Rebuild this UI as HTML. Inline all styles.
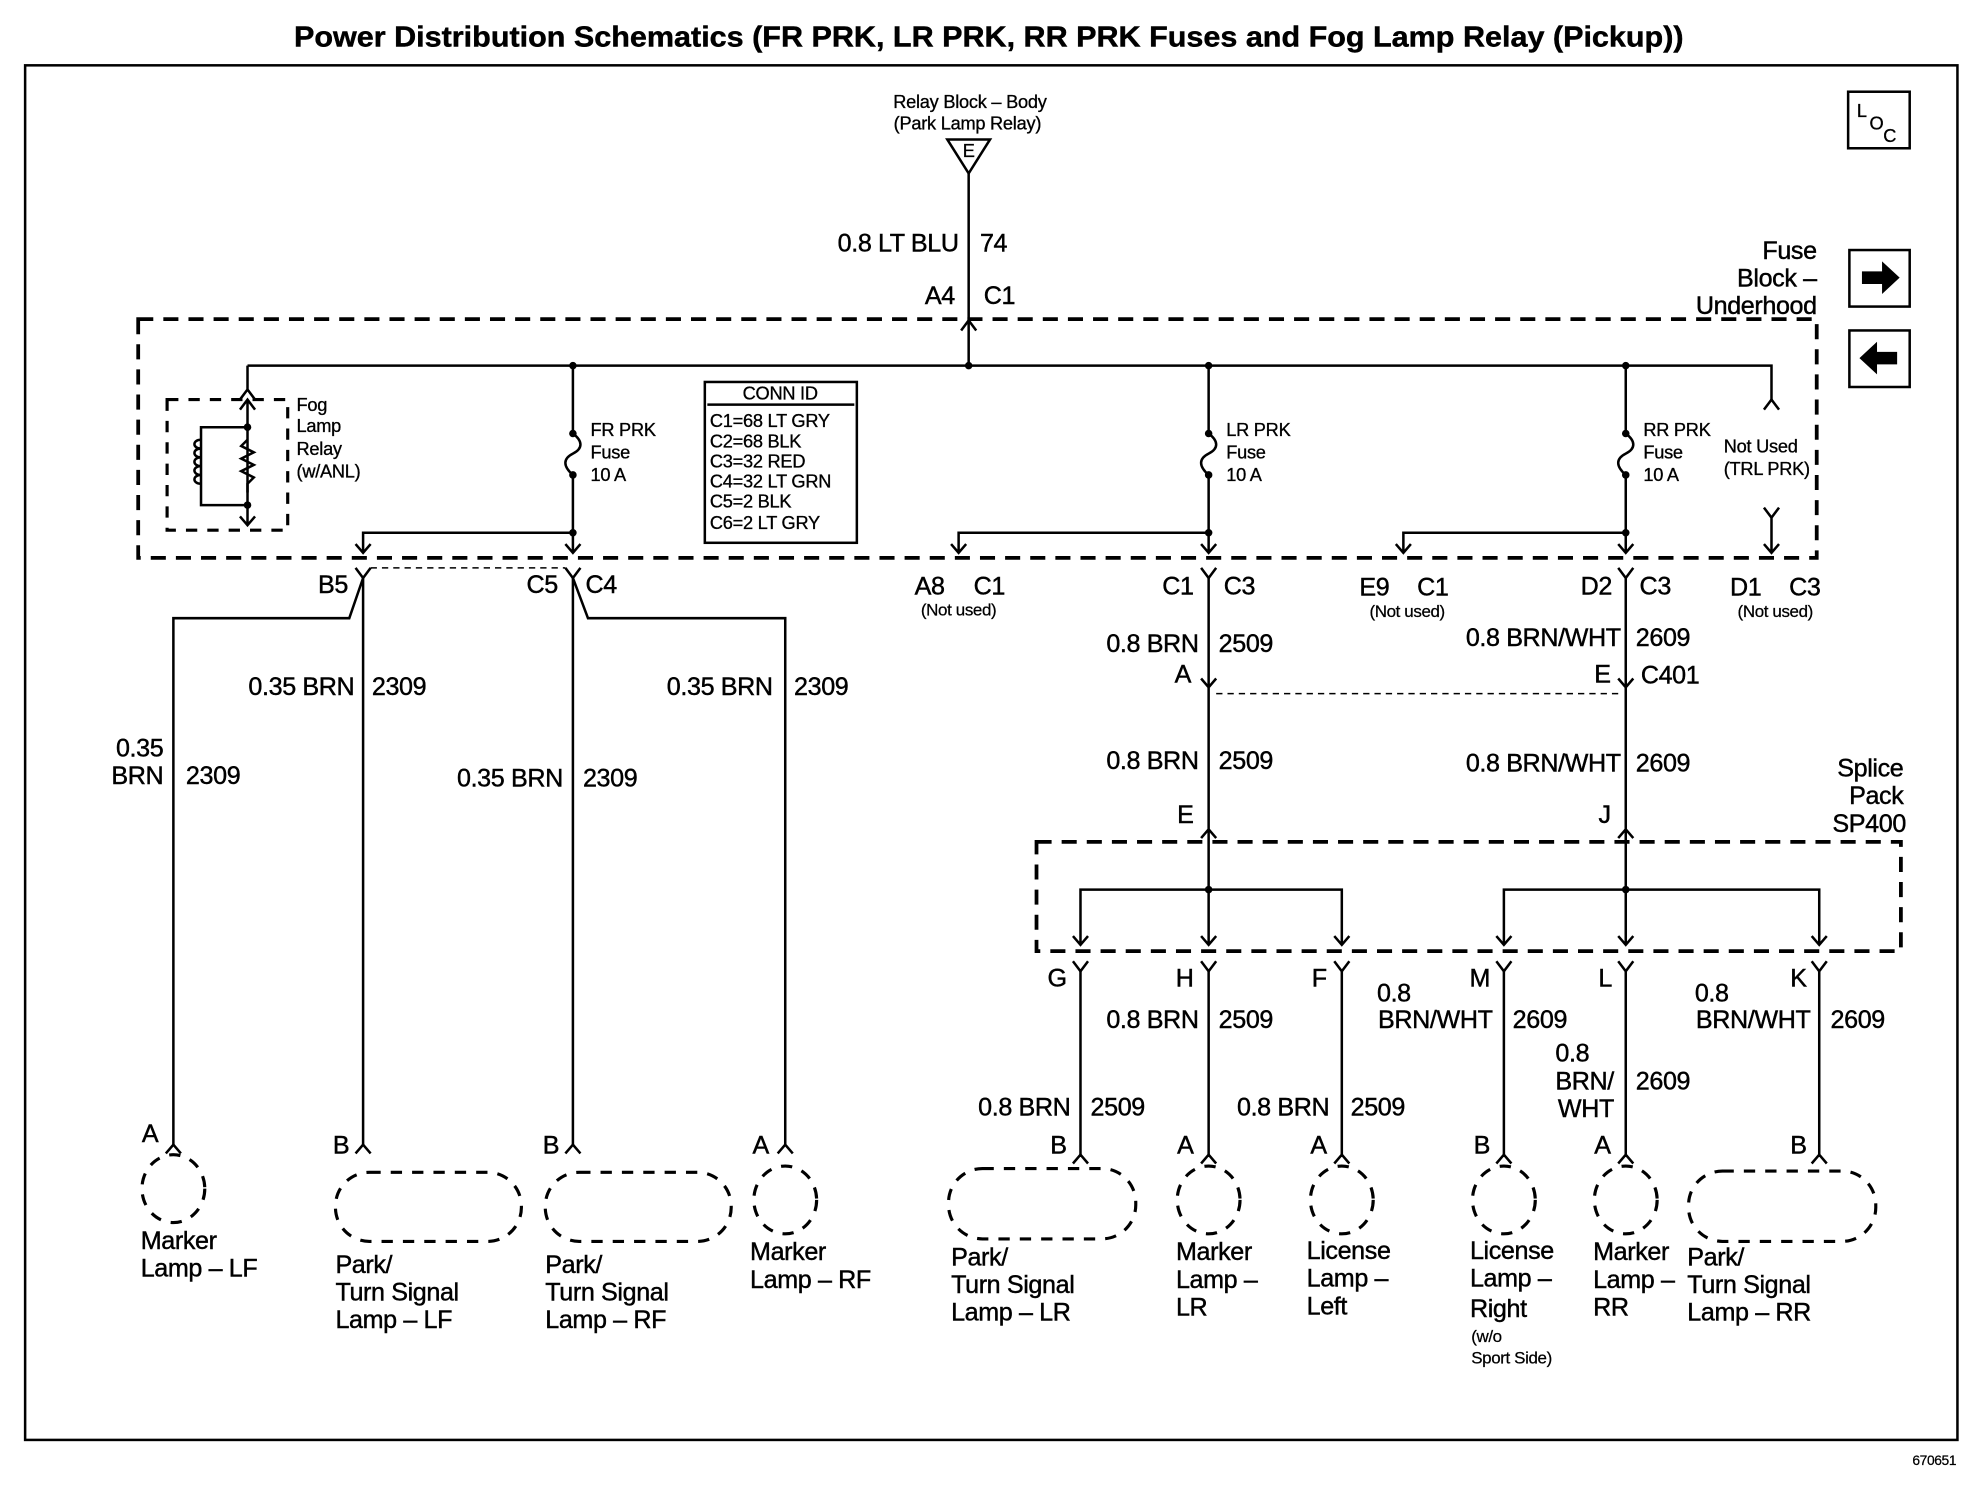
<!DOCTYPE html>
<html><head><meta charset="utf-8"><style>
html,body{margin:0;padding:0;background:#fff}
svg{display:block}
text{font-family:"Liberation Sans",sans-serif;fill:#000;stroke:#000;stroke-width:0.35;font-size:20px;letter-spacing:-0.3px}
.s{font-size:14.5px;letter-spacing:-0.2px;stroke-width:0.25}
.xs{font-size:13.5px;letter-spacing:-0.3px;stroke-width:0.2}
.e{text-anchor:end}
.m{text-anchor:middle}
.w{stroke:#000;stroke-width:2;fill:none}
.d{stroke:#000;stroke-width:3;fill:none;stroke-dasharray:12 8}
.dl{stroke:#000;stroke-width:2.5;fill:none;stroke-dasharray:9 8}
.t{stroke:#000;stroke-width:1.2;fill:none;stroke-dasharray:5 4}
</style></head><body>
<svg width="1970" height="1504" viewBox="0 0 1568 1197" preserveAspectRatio="none" xmlns="http://www.w3.org/2000/svg">
<text x="234" y="37" textLength="1106" lengthAdjust="spacingAndGlyphs" style="font-size:23px;font-weight:bold;letter-spacing:0">Power Distribution Schematics (FR PRK, LR PRK, RR PRK Fuses and Fog Lamp Relay (Pickup))</text>
<rect x="20" y="52" width="1538" height="1094" class="w"/>
<text x="1557" y="1166" class="xs e" style="font-size:11px">670651</text>
<!-- LOC -->
<rect x="1471" y="73" width="49" height="45" class="w" stroke-width="2.5"/>
<text x="1478" y="93" class="s">L</text><text x="1488" y="103" class="s">O</text><text x="1499" y="113" class="s">C</text>
<rect x="1472" y="199" width="48" height="45" class="w" stroke-width="2.5"/>
<path d="M1482 216h16v-8l14 13-14 13v-8h-16z" fill="#000"/>
<rect x="1472" y="263" width="48" height="45" class="w" stroke-width="2.5"/>
<path d="M1510 280h-16v-8l-14 13 14 13v-8h16z" fill="#000"/>
<text x="1446" y="206" class="e">Fuse</text>
<text x="1446" y="228" class="e">Block –</text>
<text x="1446" y="250" class="e">Underhood</text>
<!-- relay block -->
<text x="772" y="86" class="s m">Relay Block – Body</text>
<text x="770" y="103" class="s m">(Park Lamp Relay)</text>
<path d="M754 111H788L771 138Z" class="w"/>
<text x="771" y="125" class="s m">E</text>
<path d="M771 138V255M765 263l6-8 6 8M771 255V291" class="w"/>
<text x="763" y="200" class="e">0.8 LT BLU</text><text x="780" y="200">74</text>
<text x="760" y="242" class="e">A4</text><text x="783" y="242">C1</text>
<!-- fuse block dashed -->
<rect x="110" y="254" width="1336" height="190" class="d"/>
<path d="M197 291H1410V318" class="w"/>
<g fill="#000"><circle cx="456" cy="291" r="3"/><circle cx="771" cy="291" r="3"/><circle cx="962" cy="291" r="3"/><circle cx="1294" cy="291" r="3"/></g>
<!-- fog relay -->
<path d="M197 291V310M191 318l6-8 6 8" class="w"/>
<rect x="133" y="318" width="96" height="104" class="dl"/>
<path d="M191 326l6-8 6 8M197 318V418M191 411l6 7 6-7M197 340H160V402H197" class="w"/>
<path d="M160 350c-7 0-7 7 0 7c-7 0-7 7 0 7c-7 0-7 7 0 7c-7 0-7 7 0 7c-7 0-7 7 0 7" class="w"/>
<path d="M197 350l-5 5 10 5-10 5 10 5-10 5 10 5-5 5V392" class="w"/>
<g fill="#000"><circle cx="197" cy="340" r="3"/><circle cx="197" cy="402" r="3"/></g>
<text x="236" y="327" class="s">Fog</text><text x="236" y="344" class="s">Lamp</text><text x="236" y="362" class="s">Relay</text><text x="236" y="380" class="s">(w/ANL)</text>
<!-- fuses -->
<g class="w">
<path d="M456 291V345c8 6 8 12 0 16c-8 4-8 10 0 17V440M450 433l6 7 6-7M456 424H289V440M283 433l6 7 6-7"/>
<path d="M962 291V345c8 6 8 12 0 16c-8 4-8 10 0 17V440M956 433l6 7 6-7M962 424H763V440M757 433l6 7 6-7"/>
<path d="M1294 291V345c8 6 8 12 0 16c-8 4-8 10 0 17V440M1288 433l6 7 6-7M1294 424H1117V440M1111 433l6 7 6-7"/>
<path d="M1404 326l6-8 6 8M1404 404l6 8 6-8M1410 412V440M1404 433l6 7 6-7"/>
</g>
<g fill="#000"><circle cx="456" cy="345" r="3"/><circle cx="456" cy="378" r="3"/><circle cx="456" cy="424" r="3"/>
<circle cx="962" cy="345" r="3"/><circle cx="962" cy="378" r="3"/><circle cx="962" cy="424" r="3"/>
<circle cx="1294" cy="345" r="3"/><circle cx="1294" cy="378" r="3"/><circle cx="1294" cy="424" r="3"/></g>
<text x="470" y="347" class="s">FR PRK</text><text x="470" y="365" class="s">Fuse</text><text x="470" y="383" class="s">10 A</text>
<text x="976" y="347" class="s">LR PRK</text><text x="976" y="365" class="s">Fuse</text><text x="976" y="383" class="s">10 A</text>
<text x="1308" y="347" class="s">RR PRK</text><text x="1308" y="365" class="s">Fuse</text><text x="1308" y="383" class="s">10 A</text>
<text x="1372" y="360" class="s">Not Used</text><text x="1372" y="378" class="s">(TRL PRK)</text>
<!-- conn id -->
<rect x="561" y="304" width="121" height="128" class="w" stroke-width="2.5"/>
<path d="M563 322H680" class="w"/>
<text x="621" y="318" class="s m">CONN ID</text>
<text x="565" y="340" class="s">C1=68 LT GRY</text><text x="565" y="356" class="s">C2=68 BLK</text><text x="565" y="372" class="s">C3=32 RED</text>
<text x="565" y="388" class="s">C4=32 LT GRN</text><text x="565" y="404" class="s">C5=2 BLK</text><text x="565" y="421" class="s">C6=2 LT GRY</text>
<!-- below fuse block connectors -->
<path d="M295 452H450" class="t"/>
<g class="w">
<path d="M283 452l6 8 6-8M450 452l6 8 6-8M956 452l6 8 6-8M1288 452l6 8 6-8"/>
<path d="M289 460V912M289 460L278 492H138V912"/>
<path d="M456 460V912M456 460L468 492H625V912"/>
<path d="M962 460V547M956 540l6 7 6-7M962 547V660M956 667l6-7 6 7"/>
<path d="M1294 460V547M1288 540l6 7 6-7M1294 547V660M1288 667l6-7 6 7"/>
</g>
<path d="M968 552H1288" class="t"/>
<text x="277" y="472" class="e">B5</text><text x="444" y="472" class="e">C5</text><text x="466" y="472">C4</text>
<text x="282" y="553" class="e">0.35 BRN</text><text x="296" y="553">2309</text>
<text x="615" y="553" class="e">0.35 BRN</text><text x="632" y="553">2309</text>
<text x="130" y="602" class="e">0.35</text><text x="130" y="624" class="e">BRN</text><text x="148" y="624">2309</text>
<text x="448" y="626" class="e">0.35 BRN</text><text x="464" y="626">2309</text>
<text x="728" y="473">A8</text><text x="775" y="473">C1</text><text x="763" y="490" class="xs m">(Not used)</text>
<text x="950" y="473" class="e">C1</text><text x="974" y="473">C3</text>
<text x="1082" y="474">E9</text><text x="1128" y="474">C1</text><text x="1120" y="491" class="xs m">(Not used)</text>
<text x="1283" y="473" class="e">D2</text><text x="1305" y="473">C3</text>
<text x="1377" y="474">D1</text><text x="1424" y="474">C3</text><text x="1413" y="491" class="xs m">(Not used)</text>
<text x="954" y="519" class="e">0.8 BRN</text><text x="970" y="519">2509</text>
<text x="1290" y="514" class="e">0.8 BRN/WHT</text><text x="1302" y="514">2609</text>
<text x="948" y="543" class="e">A</text><text x="1282" y="543" class="e">E</text><text x="1306" y="544">C401</text>
<text x="954" y="612" class="e">0.8 BRN</text><text x="970" y="612">2509</text>
<text x="1290" y="614" class="e">0.8 BRN/WHT</text><text x="1302" y="614">2609</text>
<text x="950" y="655" class="e">E</text><text x="1282" y="655" class="e">J</text>
<text x="1515" y="618" class="e">Splice</text><text x="1515" y="640" class="e">Pack</text><text x="1517" y="662" class="e">SP400</text>
<!-- splice pack -->
<rect x="825" y="670" width="688" height="87" class="d"/>
<g class="w">
<path d="M962 660V752M956 745l6 7 6-7M860 752V708H1068V752M854 745l6 7 6-7M1062 745l6 7 6-7"/>
<path d="M1294 660V752M1288 745l6 7 6-7M1197 752V708H1448V752M1191 745l6 7 6-7M1442 745l6 7 6-7"/>
<path d="M854 765l6 8 6-8M956 765l6 8 6-8M1062 765l6 8 6-8M1191 765l6 8 6-8M1288 765l6 8 6-8M1442 765l6 8 6-8"/>
<path d="M860 773V920M962 773V920M1068 773V920M1197 773V920M1294 773V920M1448 773V920"/>
<path d="M132 918l6-7 6 7M283 918l6-7 6 7M450 918l6-7 6 7M619 918l6-7 6 7"/>
<path d="M854 926l6-7 6 7M956 926l6-7 6 7M1062 926l6-7 6 7M1191 926l6-7 6 7M1288 926l6-7 6 7M1442 926l6-7 6 7"/>
</g>
<g fill="#000"><circle cx="962" cy="708" r="3"/><circle cx="1294" cy="708" r="3"/></g>
<text x="849" y="785" class="e">G</text><text x="950" y="785" class="e">H</text><text x="1056" y="785" class="e">F</text>
<text x="1186" y="785" class="e">M</text><text x="1283" y="785" class="e">L</text><text x="1438" y="785" class="e">K</text>
<text x="954" y="818" class="e">0.8 BRN</text><text x="970" y="818">2509</text>
<text x="1096" y="797">0.8</text><text x="1188" y="818" class="e">BRN/WHT</text><text x="1204" y="818">2609</text>
<text x="1349" y="797">0.8</text><text x="1441" y="818" class="e">BRN/WHT</text><text x="1457" y="818">2609</text>
<text x="1238" y="845">0.8</text><text x="1238" y="867">BRN/</text><text x="1240" y="889">WHT</text><text x="1302" y="867">2609</text>
<text x="852" y="888" class="e">0.8 BRN</text><text x="868" y="888">2509</text>
<text x="1058" y="888" class="e">0.8 BRN</text><text x="1075" y="888">2509</text>
<!-- bottom pin letters -->
<text x="126" y="909" class="e">A</text><text x="278" y="918" class="e">B</text><text x="445" y="918" class="e">B</text><text x="612" y="918" class="e">A</text>
<text x="849" y="918" class="e">B</text><text x="950" y="918" class="e">A</text><text x="1056" y="918" class="e">A</text>
<text x="1186" y="918" class="e">B</text><text x="1282" y="918" class="e">A</text><text x="1438" y="918" class="e">B</text>
<!-- lamps -->
<g class="dl">
<ellipse cx="138" cy="946" rx="25" ry="27"/>
<rect x="267" y="933" width="148" height="55" rx="27"/>
<rect x="434" y="933" width="148" height="55" rx="27"/>
<ellipse cx="625" cy="955" rx="25" ry="27"/>
<rect x="755" y="930" width="149" height="56" rx="27"/>
<ellipse cx="962" cy="955" rx="25" ry="27"/>
<ellipse cx="1068" cy="955" rx="25" ry="27"/>
<ellipse cx="1197" cy="955" rx="25" ry="27"/>
<ellipse cx="1294" cy="955" rx="25" ry="27"/>
<rect x="1344" y="932" width="149" height="56" rx="27"/>
</g>
<text x="112" y="994">Marker</text><text x="112" y="1016">Lamp – LF</text>
<text x="267" y="1013">Park/</text><text x="267" y="1035">Turn Signal</text><text x="267" y="1057">Lamp – LF</text>
<text x="434" y="1013">Park/</text><text x="434" y="1035">Turn Signal</text><text x="434" y="1057">Lamp – RF</text>
<text x="597" y="1003">Marker</text><text x="597" y="1025">Lamp – RF</text>
<text x="757" y="1007">Park/</text><text x="757" y="1029">Turn Signal</text><text x="757" y="1051">Lamp – LR</text>
<text x="936" y="1003">Marker</text><text x="936" y="1025">Lamp –</text><text x="936" y="1047">LR</text>
<text x="1040" y="1002">License</text><text x="1040" y="1024">Lamp –</text><text x="1040" y="1046">Left</text>
<text x="1170" y="1002">License</text><text x="1170" y="1024">Lamp –</text><text x="1170" y="1048">Right</text>
<text x="1171" y="1068" class="xs">(w/o</text><text x="1171" y="1085" class="xs">Sport Side)</text>
<text x="1268" y="1003">Marker</text><text x="1268" y="1025">Lamp –</text><text x="1268" y="1047">RR</text>
<text x="1343" y="1007">Park/</text><text x="1343" y="1029">Turn Signal</text><text x="1343" y="1051">Lamp – RR</text>
</svg>
</body></html>
